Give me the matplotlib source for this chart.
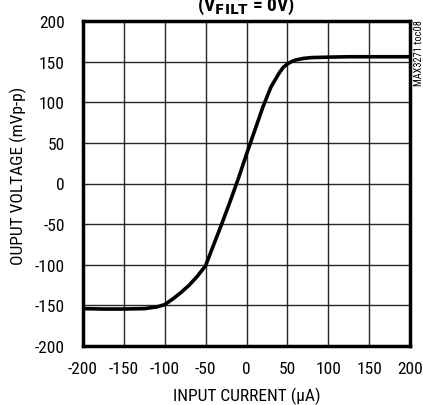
import matplotlib
matplotlib.use("Agg")
import matplotlib.pyplot as plt
from matplotlib import font_manager

names = {f.name for f in font_manager.fontManager.ttflist}
fam = next((n for n in ["Liberation Sans Narrow", "Roboto Condensed", "Archivo Narrow",
                        "Barlow Semi Condensed", "DejaVu Sans"] if n in names), "DejaVu Sans")
plt.rcParams['font.family'] = [fam, 'DejaVu Sans']

current = [-200, -175, -150, -125, -110, -100, -90, -80, -70, -60, -50, -40, -30, -20, -10,
           0, 10, 20, 30, 40, 45, 50, 55, 60, 70, 80, 100, 125, 150, 175, 200]
voltage = [-154, -154.5, -154.5, -154, -152, -149, -142, -134, -125, -114, -101, -75, -49, -22, 6,
           36, 65, 94, 119, 136, 143, 147, 150, 152, 154, 155, 155.5, 156, 156, 156, 156]

xticks = [-200, -150, -100, -50, 0, 50, 100, 150, 200]
yticks = [-200, -150, -100, -50, 0, 50, 100, 150, 200]

W, H = 423, 406
fig = plt.figure(figsize=(W/100, H/100), dpi=100)
ax = fig.add_axes([83/W, 1-347/H, 327/W, 325/H])
ax.plot(current, voltage, color='black', lw=2.6, solid_capstyle='round', solid_joinstyle='round')
ax.set_xlim(-200, 200)
ax.set_ylim(-200, 200)
ax.set_xticks(xticks)
ax.set_yticks(yticks)
ax.set_xticklabels([str(v) for v in xticks])
ax.set_yticklabels([str(v) for v in yticks])
ax.grid(True, color='black', lw=1.0, alpha=0.85)
ax.tick_params(length=0, labelsize=12.5)
ax.tick_params(axis='y', pad=13)
ax.tick_params(axis='x', pad=11)
for s in ax.spines.values():
    s.set_linewidth(2.5)

fig.text(246.5/W, 1-396/H, 'INPUT CURRENT (µA)', ha='center', va='center', fontsize=12.5)
fig.text(18/W, 1-176/H, 'OUPUT VOLTAGE (mVp-p)', ha='center', va='center',
         rotation=90, fontsize=12.5)
fig.text(246/W, 1-11/H, r'(V$_{\mathbf{FILT}}$ = 0V)', ha='center', va='baseline',
         fontsize=14, fontweight='bold')
fig.text(418.5/W, 1-53/H, 'MAX3271 toc08', rotation=90, ha='center', va='center', fontsize=7.5)
fig.savefig('out.png', dpi=100)
